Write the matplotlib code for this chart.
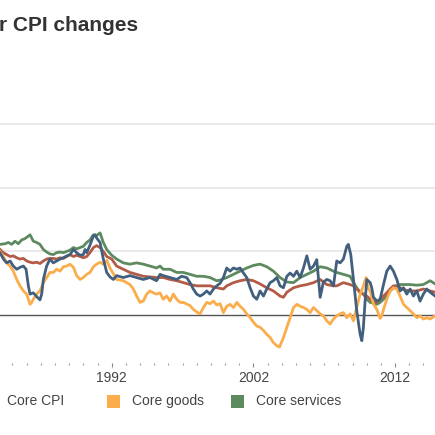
import matplotlib
matplotlib.use("Agg")
import matplotlib.pyplot as plt
from matplotlib.patches import Rectangle

plt.rcParams['font.family'] = ['Liberation Sans', 'DejaVu Sans']

# values (year, % change from a year earlier)
cpi_years = [1984.12, 1984.36, 1984.59, 1984.83, 1985.06, 1985.30, 1985.53, 1985.77, 1985.96,
             1986.12, 1986.24, 1986.47, 1986.71, 1986.94, 1987.06, 1987.18, 1987.41, 1987.65,
             1987.88, 1988.12, 1988.36, 1988.59, 1988.83, 1989.06, 1989.30, 1989.53, 1989.77,
             1990.00, 1990.12, 1990.24, 1990.47, 1990.71, 1990.83, 1990.94, 1991.18, 1991.41,
             1991.65, 1991.88, 1992.12, 1992.35, 1992.82, 1993.29, 1993.76, 1994.23, 1994.70,
             1995.17, 1995.41, 1995.64, 1996.12, 1996.59, 1996.94, 1997.29, 1997.53, 1997.76,
             1998.00, 1998.24, 1998.47, 1998.71, 1998.94, 1999.18, 1999.41, 1999.65, 1999.88,
             2000.12, 2000.35, 2000.59, 2000.83, 2001.06, 2001.30, 2001.53, 2001.77, 2002.00,
             2002.24, 2002.47, 2002.71, 2002.94, 2003.18, 2003.41, 2003.65, 2003.88, 2004.12,
             2004.36, 2004.59, 2004.83, 2005.06, 2005.30, 2005.53, 2005.77, 2006.00, 2006.24,
             2006.47, 2006.71, 2006.94, 2007.18, 2007.41, 2007.65, 2007.88, 2008.12, 2008.35,
             2008.59, 2008.70, 2008.87, 2009.06, 2009.29, 2009.53, 2009.65, 2009.76, 2009.88,
             2010.00, 2010.24, 2010.35, 2010.47, 2010.71, 2010.94, 2011.18, 2011.41, 2011.65,
             2011.88, 2012.12, 2012.35, 2012.59, 2012.82, 2013.06, 2013.29, 2013.53, 2013.76,
             2013.99, 2014.23, 2014.47, 2014.82]
cpi = [4.9, 4.4, 4.1, 4.25, 3.85, 3.6, 3.75, 3.85, 3.6,
       2.3, 1.65, 1.75, 1.45, 1.2, 1.65, 2.8, 3.85, 4.4,
       4.1, 4.25, 4.4, 4.5, 4.65, 4.75, 5.15, 4.9, 4.7,
       4.75, 5.15, 4.9, 5.5, 6.2, 6.3, 6.05, 5.7, 4.4,
       3.35, 3.0, 2.8, 3.1, 2.95, 3.1, 2.95, 2.8, 2.95,
       2.7, 3.2, 3.1, 2.95, 2.8, 3.05, 2.95, 2.55, 2.05,
       1.65, 1.5, 1.65, 1.9, 1.65, 2.05, 2.3, 2.5, 2.95,
       3.7, 3.45, 3.7, 3.6, 3.7, 3.3, 2.95, 2.15, 1.5,
       1.25, 1.9, 1.5, 2.05, 2.55, 2.7, 2.95, 2.3, 2.15,
       3.05, 3.3, 3.05, 3.45, 2.95, 3.7, 4.65, 3.6, 3.85,
       4.35, 1.4, 2.6, 2.8, 2.7, 2.3, 4.25, 4.1, 4.4,
       5.4, 5.55, 4.75, 2.8, 0.35, -1.5, -2.0, -0.95, 1.1,
       2.8, 2.55, 2.15, 1.4, 1.1, 1.25, 2.4, 3.45, 3.85,
       3.45, 2.8, 1.9, 2.15, 1.65, 2.05, 1.5, 1.9, 1.1,
       1.65, 2.05, 1.8, 1.5]

core_years = [1984.12, 1984.36, 1984.59, 1984.83, 1985.06, 1985.30, 1985.53, 1985.77, 1986.00,
              1986.24, 1986.47, 1986.71, 1986.94, 1987.18, 1987.41, 1987.65, 1987.88, 1988.12,
              1988.36, 1988.59, 1988.83, 1989.06, 1989.30, 1989.53, 1989.77, 1990.00, 1990.24,
              1990.47, 1990.71, 1990.94, 1991.18, 1991.41, 1991.65, 1992.00, 1992.35, 1992.82,
              1993.29, 1993.76, 1994.23, 1994.70, 1995.17, 1995.64, 1996.12, 1996.59, 1997.06,
              1997.53, 1998.00, 1998.47, 1998.94, 1999.41, 1999.88, 2000.12, 2000.59, 2001.06,
              2001.53, 2002.00, 2002.47, 2002.94, 2003.41, 2003.88, 2004.12, 2004.36, 2004.83,
              2005.30, 2005.77, 2006.24, 2006.71, 2007.18, 2007.65, 2007.88, 2008.35, 2008.82,
              2009.06, 2009.29, 2009.76, 2010.00, 2010.24, 2010.47, 2010.71, 2010.94, 2011.18,
              2011.41, 2011.65, 2011.88, 2012.12, 2012.35, 2012.59, 2013.06, 2013.53, 2013.99,
              2014.47, 2014.82]
core_cpi = [5.15, 4.9, 4.75, 4.6, 4.65, 4.5, 4.4, 4.45, 4.25,
            4.15, 4.1, 4.15, 4.05, 4.25, 4.4, 4.45, 4.45, 4.4,
            4.5, 4.45, 4.6, 4.75, 4.6, 4.7, 4.6, 4.5, 4.6,
            4.9, 5.3, 5.45, 5.3, 5.0, 4.6, 4.4, 3.85, 3.6,
            3.35, 3.2, 3.05, 3.0, 2.95, 2.95, 2.8, 2.7, 2.55,
            2.4, 2.3, 2.3, 2.3, 2.15, 2.05, 2.3, 2.55, 2.7,
            2.8, 2.7, 2.45, 2.15, 1.9, 1.5, 1.4, 1.8, 2.15,
            2.3, 2.4, 2.55, 2.8, 2.4, 2.3, 2.3, 2.55, 2.4,
            2.3, 2.05, 1.65, 1.5, 1.25, 1.1, 1.0, 1.25, 1.5,
            1.75, 2.05, 2.3, 2.3, 2.15, 2.0, 1.9, 1.9, 2.05,
            1.9, 1.8]

goods_years = [1984.12, 1984.36, 1984.59, 1984.83, 1985.06, 1985.30, 1985.53, 1985.77, 1986.00,
               1986.24, 1986.36, 1986.47, 1986.71, 1986.94, 1987.18, 1987.41, 1987.65, 1987.88,
               1988.12, 1988.36, 1988.59, 1988.83, 1989.06, 1989.30, 1989.53, 1989.77, 1990.00,
               1990.24, 1990.47, 1990.71, 1990.94, 1991.18, 1991.41, 1991.65, 1991.88, 1992.35,
               1992.82, 1993.29, 1993.53, 1993.76, 1994.00, 1994.23, 1994.47, 1994.70, 1994.94,
               1995.17, 1995.41, 1995.64, 1995.88, 1996.12, 1996.35, 1996.59, 1996.82, 1997.06,
               1997.53, 1997.76, 1998.00, 1998.24, 1998.47, 1998.71, 1998.94, 1999.18, 1999.41,
               1999.65, 1999.88, 2000.12, 2000.35, 2000.59, 2000.83, 2001.06, 2001.30, 2001.53,
               2001.77, 2002.00, 2002.24, 2002.47, 2002.71, 2002.94, 2003.18, 2003.41, 2003.65,
               2003.84, 2004.12, 2004.36, 2004.59, 2004.83, 2005.06, 2005.30, 2005.53, 2005.77,
               2006.00, 2006.24, 2006.47, 2006.71, 2006.94, 2007.18, 2007.41, 2007.65, 2007.88,
               2008.12, 2008.35, 2008.59, 2008.82, 2009.06, 2009.29, 2009.53, 2009.76, 2009.95,
               2010.12, 2010.24, 2010.47, 2010.71, 2010.94, 2011.06, 2011.18, 2011.41, 2011.65,
               2011.88, 2012.12, 2012.35, 2012.59, 2012.82, 2013.06, 2013.29, 2013.53, 2013.76,
               2013.99, 2014.23, 2014.47, 2014.82]
core_goods = [5.0, 4.6, 4.1, 3.85, 3.45, 2.8, 2.3, 1.9, 1.65,
              0.85, 1.0, 1.25, 1.65, 1.9, 2.55, 2.95, 3.35, 3.35,
              3.6, 3.45, 3.8, 3.85, 4.0, 3.75, 3.1, 2.8, 2.95,
              3.2, 3.35, 3.8, 4.0, 4.15, 4.0, 4.3, 3.7, 2.8,
              2.7, 2.4, 2.05, 1.5, 1.0, 1.1, 1.65, 1.9, 1.75,
              1.65, 1.75, 1.25, 1.5, 1.1, 1.65, 1.25, 1.0, 1.0,
              0.75, 0.45, 0.25, 0.1, 0.6, 1.0, 0.9, 1.1, 0.8,
              0.9, 0.2, 0.7, 0.85, 0.6, 1.0, 0.7, 0.45, 0.1,
              -0.2, -0.55, -0.85, -0.95, -1.2, -1.5, -1.75, -2.15, -2.4,
              -2.5, -1.75, -0.95, -0.2, 0.6, 0.85, 0.7, 0.6, 0.45,
              0.2, 0.6, 0.35, 0.1, -0.05, -0.45, -0.7, -0.3, -0.05,
              0.1, 0.2, -0.2, 0.1, -0.45, 0.6, 1.65, 2.3, 2.95,
              2.05, 1.9, 0.85, 0.45, -0.25, -0.05, 0.45, 1.25, 1.9,
              2.15, 2.05, 1.5, 0.85, 0.6, 0.35, 0.1, -0.2, -0.05,
              -0.3, -0.2, -0.3, -0.05]

services_years = [1984.12, 1984.47, 1984.71, 1984.94, 1985.18, 1985.41, 1985.65, 1985.88, 1986.24,
                  1986.47, 1986.71, 1986.94, 1987.18, 1987.41, 1987.65, 1987.88, 1988.12, 1988.36,
                  1988.59, 1988.83, 1989.06, 1989.30, 1989.53, 1989.77, 1990.00, 1990.24, 1990.47,
                  1990.71, 1990.94, 1991.18, 1991.41, 1991.65, 1992.00, 1992.35, 1992.82, 1993.29,
                  1993.76, 1994.23, 1994.70, 1995.17, 1995.41, 1995.64, 1996.12, 1996.59, 1997.06,
                  1997.53, 1998.00, 1998.47, 1998.94, 1999.41, 1999.65, 2000.12, 2000.59, 2001.06,
                  2001.53, 2002.00, 2002.47, 2002.94, 2003.41, 2003.88, 2004.36, 2004.83, 2005.30,
                  2005.77, 2006.24, 2006.71, 2007.18, 2007.65, 2007.88, 2008.35, 2008.82, 2009.06,
                  2009.29, 2009.53, 2009.76, 2010.00, 2010.24, 2010.47, 2010.71, 2010.94, 2011.18,
                  2011.41, 2011.65, 2011.88, 2012.12, 2012.35, 2012.59, 2013.06, 2013.53, 2013.99,
                  2014.23, 2014.47, 2014.82]
core_services = [5.55, 5.6, 5.7, 5.55, 5.8, 5.6, 5.9, 6.0, 6.3,
                 5.8, 5.7, 5.55, 5.15, 4.95, 4.8, 4.75, 4.9, 4.95,
                 4.9, 5.0, 5.1, 5.3, 5.2, 5.3, 5.4, 5.7, 5.9,
                 6.3, 6.25, 6.45, 5.7, 5.15, 4.7, 4.4, 4.1, 4.0,
                 4.1, 4.0, 3.85, 3.7, 3.85, 3.6, 3.6, 3.35, 3.35,
                 3.2, 3.05, 3.05, 2.95, 2.7, 2.75, 2.95, 3.2, 3.45,
                 3.7, 3.9, 4.0, 3.8, 3.45, 2.95, 2.6, 2.55, 2.95,
                 3.2, 3.45, 3.8, 3.7, 3.45, 3.35, 3.2, 3.05, 2.55,
                 2.15, 1.75, 1.65, 1.25, 1.0, 0.95, 0.85, 1.0, 1.25,
                 1.5, 1.9, 2.15, 2.3, 2.4, 2.4, 2.4, 2.35, 2.4,
                 2.55, 2.7, 2.45]

legend_labels = ["Core CPI", "Core goods", "Core services"]
year_ticks = [1992, 2002, 2012]
grid_levels = [5, 10, 15]

c_cpi = "#42607e"
c_core = "#b35b46"
c_goods = "#fbad4b"
c_serv = "#5e8a60"

fig = plt.figure(figsize=(4.351, 4.351), dpi=100)
ax = fig.add_axes([0, 0.1655, 1, 0.5789])

for g in grid_levels:
    ax.axhline(g, color="#e8e8e8", lw=1.3, zorder=1)
ax.axhline(0, color="#555555", lw=1.0, zorder=1.5)

ax.plot(services_years, core_services, color=c_serv, lw=2.0, zorder=2)
ax.plot(core_years, core_cpi, color=c_core, lw=2.0, zorder=3)
ax.plot(goods_years, core_goods, color=c_goods, lw=2.0, zorder=4)
ax.plot(cpi_years, cpi, color=c_cpi, lw=2.0, zorder=5)

ax.set_xlim(1984.12, 2014.82)
ax.set_ylim(-3.75, 16)
ax.set_xticks(year_ticks)
ax.set_xticklabels([str(y) for y in year_ticks])
ax.set_xticks(range(1985, 2015), minor=True)
ax.tick_params(axis="y", left=False, labelleft=False)
ax.tick_params(axis="x", which="major", direction="out", length=3, width=0.8,
               color="#888888", labelsize=10, labelcolor="#444444", pad=3)
ax.tick_params(axis="x", which="minor", direction="out", length=1.2, width=0.8,
               color="#999999")
for s in ax.spines.values():
    s.set_visible(False)

fig.text(-0.002, 0.9425, "r CPI changes", fontsize=15, fontweight="bold",
         color="#333333", va="center", ha="left")

# legend row, first square falls just off the left edge
sq_x = [-18, 107, 231]
sq_colors = [c_core, c_goods, c_serv]
for lab, x0, col in zip(legend_labels, sq_x, sq_colors):
    fig.add_artist(Rectangle((x0 / 435, 27 / 435), 12.5 / 435, 12.5 / 435,
                             transform=fig.transFigure, facecolor=col, edgecolor="none"))
    fig.text((x0 + 25) / 435, 34 / 435, lab, fontsize=10, color="#444444",
             va="center", ha="left")

fig.savefig("out.png", dpi=100)
